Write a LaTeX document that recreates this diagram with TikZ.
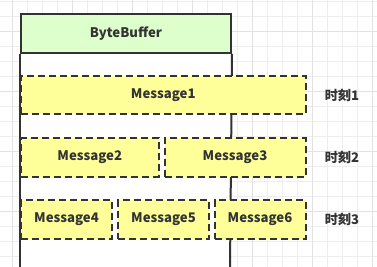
\documentclass[tikz,border=0pt]{standalone}
\usepackage{fontspec}
\setmainfont{Noto Sans CJK SC}
\definecolor{gminor}{HTML}{EEEEEE}
\definecolor{gmajor}{HTML}{E2E2E2}
\definecolor{hdrfill}{HTML}{DDFFCC}
\definecolor{msgfill}{HTML}{FFFF99}
\definecolor{stroke}{HTML}{333333}
\tikzset{
  msgbox/.style={draw=stroke, fill=msgfill, line width=2pt, dash pattern=on 7pt off 4pt, inner sep=0pt, font=\bfseries\fontsize{13.2}{15}\selectfont, text=stroke},
  hdrbox/.style={draw=stroke, fill=hdrfill, line width=2pt, inner sep=0pt, font=\bfseries\fontsize{13.2}{15}\selectfont, text=stroke},
  timelbl/.style={font=\bfseries\fontsize{13.2}{15}\selectfont, text=stroke},
  colline/.style={draw=stroke, line width=2pt}
}
\begin{document}
\begin{tikzpicture}[x=1pt,y=-1pt]
\useasboundingbox (0,0) rectangle (377,267);
\fill[white] (0,0) rectangle (377,267);
% grid
\foreach \i in {0,...,24} {
  \pgfmathsetmacro{\xx}{12.7+15*\i}
  \draw[gminor, line width=0.8pt] (\xx,0) -- (\xx,267);
}
\foreach \i in {0,...,17} {
  \pgfmathsetmacro{\yy}{1+15*\i}
  \draw[gminor, line width=0.8pt] (0,\yy) -- (377,\yy);
}
\foreach \i in {0,...,6} {
  \pgfmathsetmacro{\xx}{12.7+60*\i}
  \draw[gmajor, line width=0.8pt] (\xx,0) -- (\xx,267);
}
\foreach \i in {0,...,4} {
  \pgfmathsetmacro{\yy}{31+60*\i}
  \draw[gmajor, line width=0.8pt] (0,\yy) -- (377,\yy);
}
% column
\coordinate (cbl) at (20,268);
\coordinate (cbr) at (230,268);
\fill[white] (20,52) rectangle (230,268);
\node[hdrbox, minimum width=210pt, minimum height=38.5pt, anchor=north west] (hdr) at (20,13.3) {ByteBuffer};
\draw[colline] (hdr.south west) -- (cbl);
\draw[colline] (hdr.south east) -- (cbr);
% messages
\node[msgbox, minimum width=284.5pt, minimum height=38pt, anchor=north west] (m1) at (20,75) {Message1};
\node[msgbox, minimum width=137.5pt, minimum height=38.5pt, anchor=north west] (m2) at (20,137) {Message2};
\node[msgbox, minimum width=141pt, minimum height=38.5pt, anchor=north west] (m3) at (163.5,137) {Message3};
\node[msgbox, minimum width=91pt, minimum height=38.5pt, anchor=north west] (m4) at (20,199) {Message4};
\node[msgbox, minimum width=91pt, minimum height=38.5pt, anchor=north west] (m5) at (117,199) {Message5};
\node[msgbox, minimum width=91pt, minimum height=38.5pt, anchor=north west] (m6) at (213.5,199) {Message6};
% labels
\node[timelbl] (t1) at (342,95) {时刻1};
\node[timelbl] (t2) at (342,157) {时刻2};
\node[timelbl] (t3) at (342,219) {时刻3};
\end{tikzpicture}
\end{document}
